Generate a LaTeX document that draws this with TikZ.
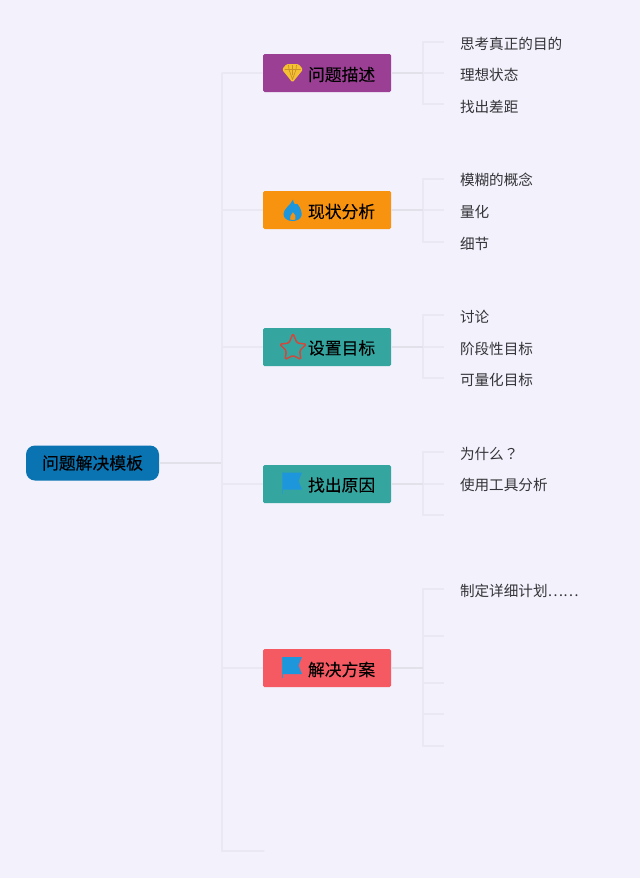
\documentclass[tikz,border=0pt]{standalone}
\usepackage{fontspec}
\setmainfont{Noto Sans CJK SC}
\newfontfamily\tcfont{Noto Sans CJK TC}
\newfontfamily\heavyfont[FakeBold=0.5]{Noto Sans CJK SC}
\newfontfamily\midfont[FakeBold=0.15]{Noto Sans CJK SC}
\definecolor{bgc}{HTML}{F3F1FB}
\definecolor{linec}{HTML}{EAE8F2}
\definecolor{linedark}{HTML}{E2E0E8}
\definecolor{rootc}{HTML}{0A74B2}
\definecolor{purplec}{HTML}{9B3F94}
\definecolor{orangec}{HTML}{F7930E}
\definecolor{tealc}{HTML}{35A5A0}
\definecolor{redc}{HTML}{F55A63}
\definecolor{bluei}{HTML}{1E96DC}
\definecolor{goldi}{HTML}{F5C032}
\definecolor{goldl}{HTML}{C8902A}
\definecolor{stari}{HTML}{D2483C}
\definecolor{leafc}{HTML}{333338}
\tikzset{
  every node/.style={inner sep=0pt,outer sep=0pt},
  conn/.style={draw=linec,line width=1.4pt},
  conndark/.style={draw=linedark,line width=1.4pt},
  rootnode/.style={fill=rootc,rounded corners=9pt,minimum width=133pt,minimum height=35pt,font=\heavyfont\fontsize{16.8pt}{18pt}\selectfont,text=black},
  topic/.style={rounded corners=1.5pt,minimum width=128pt,minimum height=38pt},
  label/.style={anchor=west,font=\fontsize{14.6pt}{16pt}\selectfont,text=leafc},
  toptext/.style={anchor=west,font=\midfont\fontsize{16.8pt}{18pt}\selectfont,text=black},
}
\begin{document}
\begin{tikzpicture}[x=1pt,y=-1pt]
\useasboundingbox (0,0) rectangle (640,878);
\fill[bgc] (0,0) rectangle (640,878);
% free junctions and ends
\coordinate (tr0) at (222,463);
\coordinate (tt) at (222,73);
\coordinate (tb) at (222,851);
\coordinate (bend) at (264,851);
% nodes
\node[rootnode] (root) at (92.5,463) {问题解决模板};
\node[topic,fill=purplec] (t1) at (327,73) {};
\node[topic,fill=orangec] (t2) at (327,210) {};
\node[topic,fill=tealc] (t3) at (327,347) {};
\node[topic,fill=tealc] (t4) at (327,484) {};
\node[topic,fill=redc] (t5) at (327,668) {};
\node[toptext] at (308,74.5) {问题描述};
\node[toptext] at (308,211.5) {现状分析};
\node[toptext] at (308,348) {设置目标};
\node[toptext] at (308,485) {找出原因};
\node[toptext] at (308,669.5) {解决方案};
\node[label] (a1) at (460,43.5) {思考真正的目的};
\node[label] (a2) at (460,75) {理想状态};
\node[label] (a3) at (460,106.5) {找出差距};
\node[label] (b1) at (460,180) {模糊的概念};
\node[label] (b2) at (460,212) {量化};
\node[label] (b3) at (460,243.5) {细节};
\node[label] (c1) at (460,316.5) {讨论};
\node[label] (c2) at (460,348.5) {阶段性目标};
\node[label] (c3) at (460,380) {可量化目标};
\node[label] (d1) at (460,453.5) {为什么{\tcfont ？}};
\node[label] (d2) at (460,485) {使用工具分析};
\node[label] (e1) at (460,590.5) {制定详细计划……};
% trunk
\draw[conndark] (root.east) -- (tr0);
\draw[conn,line cap=round] (tt) -- (tb) -- (bend);
\foreach \n in {t1,t2,t3,t4,t5} \draw[conn] (tt |- \n.west) -- (\n.west);
% brackets
\foreach \n/\ya/\ymid/\yb in {t1/42/73/104,t2/179/210/242,t3/315/347/378,t4/452/484/515}{
  \coordinate (\n x) at (423,\ymid);
  \coordinate (\n a) at (444,\ya);
  \coordinate (\n m) at (444,\ymid);
  \coordinate (\n b) at (444,\yb);
  \draw[conn] (\n a) -| (\n x) |- (\n b);
  \draw[conndark] (\n x -| \n.east) -- (\n x);
  \draw[conn] (\n x) -- (\n m);
}
\coordinate (t5x) at (423,668);
\coordinate (e1c) at (444,589);
\coordinate (e2c) at (444,636);
\coordinate (e3c) at (444,683);
\coordinate (e4c) at (444,714);
\coordinate (e5c) at (444,746);
\draw[conn] (e1c) -| (t5x) |- (e5c);
\draw[conndark] (t5.east) -- (t5x);
\foreach \c in {e2c,e3c,e4c} \draw[conn] (t5x |- \c) -- (\c);
% diamond icon
\begin{scope}[shift={(292.5,73)}]
\fill[goldi,rounded corners=1.5pt] (-6,-9) -- (6,-9) -- (10.5,-3.5) -- (0,9.5) -- (-10.5,-3.5) -- cycle;
\draw[goldl,line width=0.7pt,line join=round] (-8,-3.5) -- (8,-3.5) (-4,-8) -- (-3.5,-3.5) -- (0,6.5) -- (3.5,-3.5) -- (4,-8) (0,-8) -- (0,2);
\end{scope}
% flame icon
\begin{scope}[shift={(292.5,210.5)}]
\fill[bluei,even odd rule] (0.5,-11) .. controls (1,-6.5) and (3,-5) .. (5,-6.5) .. controls (8.5,-2) and (9.5,2) .. (9,5) .. controls (8,9) and (4,10.5) .. (0,10.5) .. controls (-5,10.5) and (-9,8) .. (-9,3.5) .. controls (-9,-2) and (-2,-5) .. (0.5,-11) -- cycle
 (0.5,1.5) .. controls (-1,4) and (-3.5,6) .. (-2.5,9) .. controls (-1,10) and (1.5,10) .. (3,9) .. controls (4,6) and (2.5,3.5) .. (0.5,1.5) -- cycle;
\end{scope}
% star icon
\begin{scope}[shift={(293,348.5)},yscale=-1]
\draw[stari,line width=1.5pt,rounded corners=1.5pt] (90:15) -- (54:6.8) -- (18:14) -- (-18:7) -- (-54:13.5) -- (-90:7) -- (-126:13.5) -- (-162:7) -- (162:14) -- (126:6.8) -- cycle;
\end{scope}
% flag icons
\foreach \fy in {472.5,657}{
  \fill[bluei] (282,\fy) -- (302,\fy) -- (298.5,\fy+8.5) -- (302,\fy+17) -- (282,\fy+17) -- cycle;
  \draw[bluei!70!tealc,line width=0.8pt] (282.4,\fy) -- (282.4,\fy+21);
}
\end{tikzpicture}
\end{document}
